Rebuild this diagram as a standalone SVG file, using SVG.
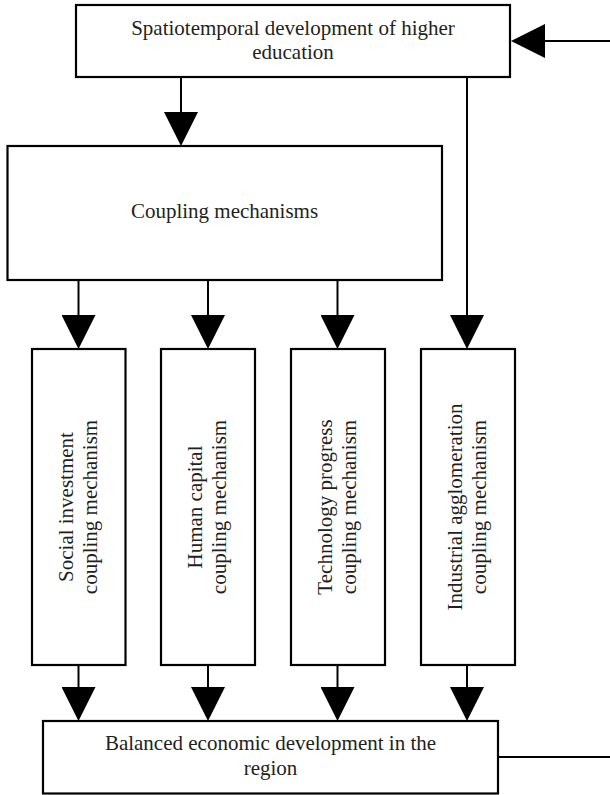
<svg xmlns="http://www.w3.org/2000/svg" width="610" height="795" viewBox="0 0 610 795">
<style>
.box{fill:#fff;stroke:#000;stroke-width:2.2}
.ln{fill:none;stroke:#000;stroke-width:2}
.arr{marker-end:url(#ah)}
text{font-family:"Liberation Serif","Times New Roman",serif;font-size:21px;fill:#231f20;text-anchor:middle}
</style>
<defs>
<marker id="ah" markerUnits="userSpaceOnUse" markerWidth="34" markerHeight="34" viewBox="0 0 34 34" refX="30" refY="17" orient="auto">
<path d="M0,0 L34,17 L0,34 z" fill="#000"/>
</marker>
</defs>
<g id="connectors">
<line class="ln arr" x1="181" y1="77" x2="181" y2="142"/>
<line class="ln arr" x1="467" y1="77" x2="467" y2="345"/>
<line class="ln arr" x1="610" y1="41" x2="515" y2="41"/>
<line class="ln arr" x1="78.5" y1="280" x2="78.5" y2="345"/>
<line class="ln arr" x1="208" y1="280" x2="208" y2="345"/>
<line class="ln arr" x1="337.5" y1="280" x2="337.5" y2="345"/>
<line class="ln arr" x1="78.5" y1="665" x2="78.5" y2="717"/>
<line class="ln arr" x1="208" y1="665" x2="208" y2="717"/>
<line class="ln arr" x1="337.5" y1="665" x2="337.5" y2="717"/>
<line class="ln arr" x1="467" y1="665" x2="467" y2="717"/>
<line class="ln" x1="498" y1="757" x2="610" y2="757"/>
</g>
<g id="top">
<rect class="box" x="76" y="5" width="434" height="72"/>
<text x="293" y="35">Spatiotemporal development of higher</text>
<text x="293" y="59">education</text>
</g>
<g id="coupling">
<rect class="box" x="7.5" y="146" width="434.5" height="134"/>
<text x="224.5" y="218">Coupling mechanisms</text>
</g>
<g id="social">
<rect class="box" x="32" y="349" width="93.5" height="316"/>
<text transform="translate(78.5,507) rotate(-90)"><tspan x="0" y="-6">Social investment</tspan><tspan x="0" y="18">coupling mechanism</tspan></text>
</g>
<g id="human">
<rect class="box" x="161" y="349" width="94" height="316"/>
<text transform="translate(208,507) rotate(-90)"><tspan x="0" y="-6">Human capital</tspan><tspan x="0" y="18">coupling mechanism</tspan></text>
</g>
<g id="technology">
<rect class="box" x="291" y="349" width="94" height="316"/>
<text transform="translate(338,507) rotate(-90)"><tspan x="0" y="-6">Technology progress</tspan><tspan x="0" y="18">coupling mechanism</tspan></text>
</g>
<g id="industrial">
<rect class="box" x="421" y="349" width="94" height="316"/>
<text transform="translate(468,507) rotate(-90)"><tspan x="0" y="-6">Industrial agglomeration</tspan><tspan x="0" y="18">coupling mechanism</tspan></text>
</g>
<g id="balanced">
<rect class="box" x="43" y="721" width="455" height="72.5"/>
<text x="270.5" y="750">Balanced economic development in the</text>
<text x="270.5" y="775">region</text>
</g>
</svg>
